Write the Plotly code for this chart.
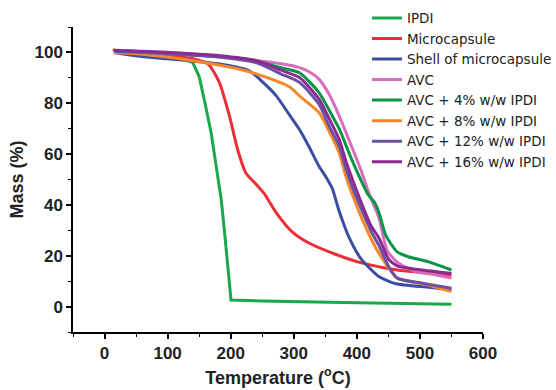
import plotly.graph_objects as go

# ---- data ----
ipdi_T = [15, 50, 100, 125, 140, 150, 158, 169, 177, 185, 190, 195, 200.5, 250, 300, 400, 500, 550]
ipdi_M = [100.5, 99.5, 98.5, 97.5, 96, 90.5, 81.5, 68.4, 55.2, 42.1, 30, 16, 2.6, 2.2, 1.9, 1.5, 1.1, 0.9]

micro_T = [13, 50, 100, 140, 164, 182, 198, 211, 224, 240, 253, 272, 298, 324, 367, 409, 462, 550]
micro_M = [101, 100.5, 99, 97.5, 95.5, 88.2, 75, 61.8, 52.6, 48.2, 44.5, 37, 29.3, 25, 20.5, 17.1, 14.5, 12.3]

shell_T = [15, 55, 100, 135, 180, 230, 250, 272, 293, 309, 324, 340, 351, 361, 372, 388, 406, 435, 462, 514, 550]
shell_M = [100, 98.5, 97.5, 96.7, 95.5, 92.7, 88.5, 83, 75.5, 69.7, 63, 55.2, 51, 46.5, 37.5, 27, 19, 11.8, 9, 7.6, 6.6]

avc_T = [15, 60, 120, 180, 240, 280, 309, 325, 340, 356, 372, 390, 406, 420, 435, 448, 464, 493, 520, 550]
avc_M = [100.5, 100, 99.3, 98.3, 96.8, 95.5, 94, 92.3, 89.5, 83.5, 75, 64, 54, 44, 35, 22, 17.5, 13.8, 12.7, 11.2]

avc4_T = [15, 60, 120, 180, 240, 280, 309, 340, 364, 372, 390, 406, 418, 428, 435, 446, 464, 483, 514, 550]
avc4_M = [100.5, 100.2, 99.5, 98.5, 96.5, 94, 92, 84.2, 73.7, 70, 59, 50, 44, 41, 37, 28, 21.5, 19.5, 17.6, 14.4]

avc8_T = [15, 50, 82, 120, 170, 214, 250, 293, 309, 340, 356, 372, 383, 396, 409, 422, 435, 464, 514, 550]
avc8_M = [100, 99.5, 98.7, 97.5, 95.5, 93.4, 90.8, 86.5, 82.9, 76.3, 69, 60.5, 51, 42, 34, 27, 21, 11.2, 8.4, 5.9]

avc12_T = [15, 60, 120, 180, 240, 280, 309, 340, 356, 372, 383, 396, 406, 422, 435, 450, 464, 504, 550]
avc12_M = [100.5, 100, 99.2, 98.2, 96, 91.5, 88.2, 79.6, 71, 63.1, 54, 45, 39, 30, 24, 16, 11.2, 9.2, 7.2]

avc16_T = [15, 60, 120, 180, 240, 280, 309, 340, 356, 372, 383, 396, 406, 422, 435, 451, 466, 500, 550]
avc16_M = [100.8, 100.5, 99.8, 98.8, 96.8, 93, 90.1, 81.6, 74, 65.8, 57, 48, 41.5, 32, 27, 18.4, 15.8, 14.5, 13]

names = ["IPDI", "Microcapsule", "Shell of microcapsule", "AVC",
         "AVC + 4% w/w IPDI", "AVC + 8% w/w IPDI", "AVC + 12% w/w IPDI", "AVC + 16% w/w IPDI"]
colors = ["#1aa84c", "#ee2d36", "#3a4ea2", "#d86cbe", "#0c9447", "#f7882a", "#6b51a5", "#8b2a8f"]
series = [(ipdi_T, ipdi_M), (micro_T, micro_M), (shell_T, shell_M), (avc_T, avc_M),
          (avc4_T, avc4_M), (avc8_T, avc8_M), (avc12_T, avc12_M), (avc16_T, avc16_M)]

FONT = "Liberation Sans, Arial, sans-serif"
LEGEND_FONT = "DejaVu Sans, Liberation Sans, Arial, sans-serif"

fig = go.Figure()
for i, ((t, m), n, c) in enumerate(zip(series, names, colors)):
    shape = "linear" if i == 0 else "spline"
    fig.add_trace(go.Scatter(
        x=t, y=m, mode="lines", name=n,
        line=dict(color=c, width=3, shape=shape, smoothing=0.6),
    ))

axis_common = dict(
    showline=True, linecolor="black", linewidth=1.5, mirror=False,
    ticks="outside", ticklen=5, tickwidth=1.5, tickcolor="black",
    showgrid=False, zeroline=False,
    tickfont=dict(family=FONT, size=17, color="#222222", weight="bold"),
)

fig.update_layout(
    width=556, height=390,
    margin=dict(l=73, r=73, t=27, b=58, autoexpand=False),
    paper_bgcolor="white", plot_bgcolor="white",
    font=dict(family=FONT, color="#222222"),
    showlegend=True,
    legend=dict(
        x=0.717, y=1.08, xanchor="left", yanchor="top",
        font=dict(family=LEGEND_FONT, size=13.5, color="#222222"),
        bgcolor="rgba(0,0,0,0)", borderwidth=0,
        tracegroupgap=0, itemwidth=30,
    ),
    xaxis=dict(
        range=[-50, 600], dtick=100, tick0=0,
        minor=dict(dtick=50, ticks="outside", ticklen=3, tickwidth=1.2, tickcolor="black"),
        title=dict(text="Temperature (<sup>o</sup>C)", standoff=9,
                   font=dict(family=FONT, size=18, color="#222222", weight="bold")),
        **axis_common,
    ),
    yaxis=dict(
        range=[-10, 110], dtick=20, tick0=0,
        minor=dict(dtick=10, ticks="outside", ticklen=3, tickwidth=1.2, tickcolor="black"),
        title=dict(text="Mass (%)", standoff=6,
                   font=dict(family=FONT, size=18, color="#222222", weight="bold")),
        **axis_common,
    ),
)

fig.write_html("out.html")
